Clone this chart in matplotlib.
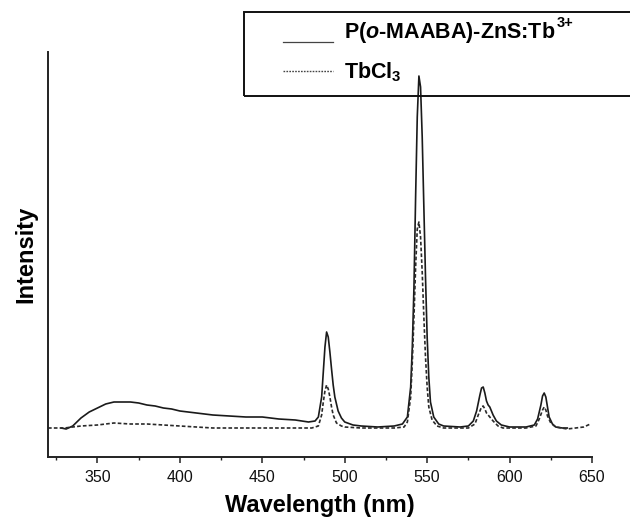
import matplotlib
matplotlib.use("Agg")
import matplotlib.pyplot as plt
from matplotlib.patches import Rectangle
from matplotlib.lines import Line2D

plt.rcParams['font.family'] = ['Liberation Sans', 'DejaVu Sans']
plt.rcParams['mathtext.fontset'] = 'custom'
plt.rcParams['mathtext.rm'] = 'Liberation Sans'
plt.rcParams['mathtext.bf'] = 'Liberation Sans:bold'
plt.rcParams['mathtext.it'] = 'Liberation Sans:italic'
plt.rcParams['mathtext.bfit'] = 'Liberation Sans:bold:italic'

# P(o-MAABA)-ZnS:Tb3+ (solid)
wl_a = [328, 331, 335, 340, 345, 350, 355, 360, 365, 370, 375, 380, 385, 390, 395,
        400, 410, 420, 430, 440, 450, 460, 470, 478, 482, 484, 486, 487, 488, 489,
        490, 491, 492, 493, 494, 496, 498, 500, 505, 510, 520, 530, 535, 538, 540,
        541, 542, 543, 544, 545, 546, 547, 548, 549, 550, 551, 552, 554, 557, 560,
        570, 575, 578, 580, 582, 583, 584, 585, 586, 587, 588, 589, 590, 592, 595,
        600, 610, 615, 617, 619, 620, 621, 622, 623, 624, 626, 628, 632, 635]
int_a = [29, 28, 31, 39, 45, 49, 53, 55, 55, 55, 54, 52, 51, 49, 48,
         46, 44, 42, 41, 40, 40, 38, 37, 35, 36, 40, 60, 85, 110, 125,
         120, 105, 88, 72, 60, 46, 39, 35, 32, 31, 30, 31, 33, 40, 70,
         110, 170, 260, 340, 381, 370, 320, 250, 180, 120, 80, 55, 40, 33, 31,
         30, 31, 36, 46, 62, 69, 70, 64, 56, 52, 50, 46, 42, 36, 32,
         30, 30, 32, 38, 52, 61, 64, 60, 50, 40, 33, 30, 29, 29]

# TbCl3 (dashed)
wl_b = [320, 330, 340, 350, 360, 370, 380, 390, 400, 410, 420, 430, 450, 470, 480,
        484, 486, 487, 488, 489, 490, 491, 492, 493, 495, 498, 500, 510, 530, 536,
        538, 540, 541, 542, 543, 544, 545, 546, 547, 548, 549, 550, 551, 553, 556,
        560, 575, 579, 581, 583, 584, 585, 586, 588, 590, 593, 596, 610, 616, 618,
        620, 621, 622, 623, 625, 628, 635, 640, 645, 649]
int_b = [29, 29, 31, 32, 34, 33, 33, 32, 31, 30, 29, 29, 29, 29, 29,
         31, 42, 55, 66, 72, 68, 60, 50, 42, 34, 31, 30, 29, 29, 30,
         35, 60, 95, 140, 190, 228, 235, 220, 185, 140, 100, 70, 50, 37, 31,
         29, 29, 33, 42, 50, 51, 48, 44, 40, 36, 31, 29, 29, 31, 38,
         47, 50, 47, 41, 34, 30, 28, 29, 30, 33]

labels = ['P($\\mathbfit{o}$-MAABA)-ZnS:Tb', 'TbCl$_{\\mathbf{3}}$']
sup_label = '3+'
xticks = [350, 400, 450, 500, 550, 600, 650]

W, H = 630, 522
fig = plt.figure(figsize=(6.3, 5.22), dpi=100)
ax = fig.add_axes([48 / W, 1 - 457 / H, (592 - 48) / W, (457 - 52) / H])

ax.plot(wl_a, int_a, color='#1a1a1a', lw=1.2, ls='-')
ax.plot(wl_b, int_b, color='#2a2a2a', lw=1.2, ls=(0, (2.2, 1.3)))

ax.set_xlim(320, 650)
ax.set_ylim(0, 405)
ax.set_xticks(xticks)
ax.set_xticks(range(325, 650, 50), minor=True)
ax.set_yticks([])
for s in ['top', 'right']:
    ax.spines[s].set_visible(False)
for s in ['left', 'bottom']:
    ax.spines[s].set_linewidth(1.4)
    ax.spines[s].set_color('#222222')
ax.tick_params(axis='x', which='major', length=4.5, width=1.1, direction='out',
               labelsize=11.5, pad=5, colors='#222222')
ax.tick_params(axis='x', which='minor', length=2.5, width=1.0, direction='out', colors='#222222')
for t in ax.get_xticklabels():
    t.set_color('#111111')

ax.set_xlabel('Wavelength (nm)', fontsize=17, fontweight='bold', labelpad=6)
ax.set_ylabel('Intensity', fontsize=17, fontweight='bold', labelpad=8)

# legend box (drawn in figure pixel positions)
def fx(px):
    return px / W

def fy(py):
    return 1 - py / H

rect = Rectangle((fx(244), fy(96)), fx(640) - fx(244), fy(12) - fy(96),
                 transform=fig.transFigure, fill=False, edgecolor='#111111',
                 lw=1.4, clip_on=False)
fig.patches.append(rect)
fig.add_artist(Line2D([fx(283), fx(333)], [fy(42), fy(42)], transform=fig.transFigure,
                      color='#444444', lw=0.9))
fig.add_artist(Line2D([fx(283), fx(333)], [fy(71), fy(71)], transform=fig.transFigure,
                      color='#444444', lw=1.0, ls=(0, (1.2, 0.9))))
t1 = fig.text(fx(344), fy(38), labels[0], fontsize=15.5, fontweight='bold',
              ha='left', va='baseline')
fig.text(fx(344), fy(78), labels[1], fontsize=15.5, fontweight='bold',
         ha='left', va='baseline')
fig.canvas.draw()
bb = t1.get_window_extent()
fig.text(bb.x1 / W + 0.002, fy(27), sup_label, fontsize=10.5, fontweight='bold',
         ha='left', va='baseline')

fig.savefig('out.png', dpi=100)
